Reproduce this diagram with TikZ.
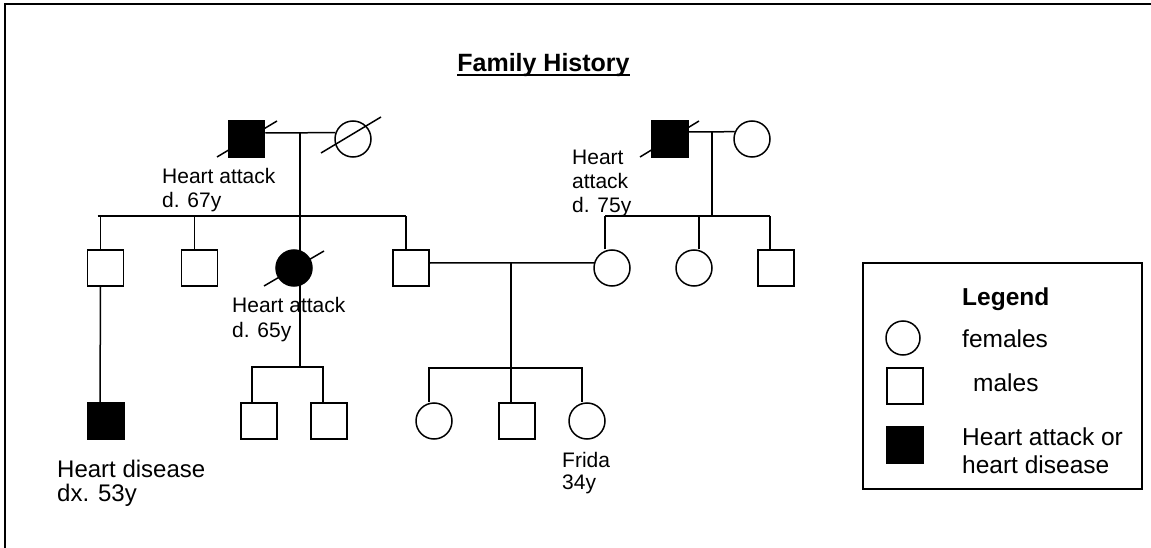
\documentclass[tikz,border=0pt]{standalone}
\usepackage{fontspec}
\setmainfont{Liberation Sans}
\newcommand\lbfont{\fontsize{21}{23.5}\selectfont}
\tikzset{
  x=1pt, y=-1pt,
  sym/.style={draw, line width=1.5pt, fill=white, inner sep=0pt},
  male/.style={sym, rectangle, minimum size=36pt},
  female/.style={sym, circle, minimum size=36pt},
  aff/.style={fill=black},
  conn/.style={line width=1.5pt},
  strike/.style={line width=1.5pt},
  lbl/.style={anchor=base west, inner sep=0pt, align=left},
}
\begin{document}
\begin{tikzpicture}
\useasboundingbox (0,0) rectangle (1151,548);
\draw[line width=2.2pt] (5,4) rectangle (1170,570);

% title
\node[anchor=base, inner sep=0pt, font=\fontsize{25}{28}\selectfont\bfseries] (title) at (543.5,72) {Family History};
\draw[line width=2.2pt] ([yshift=-3pt]title.base west) -- ([yshift=-3pt]title.base east);

% coordinates for family lines
\coordinate (m1) at (300,133);
\coordinate (sib1) at (300,216);
\coordinate (acj) at (300,367);
\coordinate (m2) at (511,263);
\coordinate (sib3) at (511,368);
\coordinate (m3) at (712,132);
\coordinate (sib2) at (712,216);

% lines drawn first (symbols drawn over)
\draw[conn] (m1) -- (acj);
\draw[conn] (m2) -- (sib3);
\draw[conn] (m3) -- (sib2);

% generation 1
\node[male, aff] (gf1) at (246.5,139) {};
\node[female] (gm1) at (353,139) {};
\node[male, aff] (gf2) at (670,139) {};
\node[female] (gm2) at (752,139) {};

% generation 2
\node[male] (u1) at (105.5,268) {};
\node[male] (u2) at (199.5,268) {};
\node[female, aff] (aunt) at (294,268) {};
\node[male] (dad) at (411,268) {};
\node[female] (mom) at (612,268) {};
\node[female] (a2) at (694,268) {};
\node[male] (u3) at (776,268) {};

% generation 3
\node[male, aff] (cousin) at (106,421) {};
\node[male] (ac1) at (259,421) {};
\node[male] (ac2) at (329,421) {};
\node[female] (s1) at (434,421) {};
\node[male] (s2) at (517,421) {};
\node[female] (frida) at (587,421) {};

% strike-through lines (deceased)
\draw[strike] (gf1.center) ++(-29.5,18) -- ++(60,-36);
\draw[strike] (gm1.center) ++(-32,14) -- ++(60,-36);
\draw[strike] (gf2.center) ++(-30,18) -- ++(59,-36);
\draw[strike] (aunt.center) ++(-30,18) -- ++(60,-35);

% marriages
\draw[conn] (gf1.east |- m1) -- (gm1.160);
\draw[conn] (gf2.east |- m3) -- (gm2.157);
\draw[conn] (dad.east |- m2) -- (mom.164);

% sibship gen 1 left
\draw[conn] ([xshift=-8pt]u1.north |- sib1) -- ([xshift=-5pt]dad.north |- sib1);
\draw[conn] ([xshift=-5pt]u1.north) -- ([xshift=-5pt]u1.north |- sib1);
\draw[conn] ([xshift=-5pt]u2.north) -- ([xshift=-5pt]u2.north |- sib1);
\draw[conn] ([xshift=-5pt]dad.north) -- ([xshift=-5pt]dad.north |- sib1);

% sibship gen 1 right
\draw[conn] ([xshift=-7pt]mom.north |- sib2) -- ([xshift=-6pt]u3.north |- sib2);
\draw[conn] ([xshift=-7pt]mom.north) -- ([xshift=-7pt]mom.north |- sib2);
\draw[conn] ([xshift=5pt]a2.north) -- ([xshift=5pt]a2.north |- sib2);
\draw[conn] ([xshift=-6pt]u3.north) -- ([xshift=-6pt]u3.north |- sib2);

% uncle to cousin
\draw[conn] ([xshift=-5pt]u1.south) -- ([xshift=-6pt]cousin.north);

% aunt's children
\draw[conn] ([xshift=-7pt]ac1.north) -- ([xshift=-7pt]ac1.north |- acj) -- ([xshift=-6pt]ac2.north |- acj) -- ([xshift=-6pt]ac2.north);

% parents' children
\draw[conn] ([xshift=-5pt]s1.north) -- ([xshift=-5pt]s1.north |- sib3) -- ([xshift=-5pt]frida.north |- sib3) -- ([xshift=-5pt]frida.north);
\draw[conn] ([xshift=-6pt]s2.north) -- ([xshift=-6pt]s2.north |- sib3);

% labels
\node[lbl] (l1) at (162,184) {\lbfont\begin{tabular}[t]{@{}l@{}}Heart attack\\d. 67y\end{tabular}};
\node[lbl] (l2) at (572,165) {\fontsize{21}{24}\selectfont\begin{tabular}[t]{@{}l@{}}Heart\\attack\\d. 75y\end{tabular}};
\node[lbl] (l3) at (232,312) {\fontsize{21}{25}\selectfont\begin{tabular}[t]{@{}l@{}}Heart attack\\d. 65y\end{tabular}};
\node[lbl] (l4) at (57,477) {\fontsize{24}{23.5}\selectfont\begin{tabular}[t]{@{}l@{}}Heart disease\\dx. 53y\end{tabular}};
\node[lbl] (l5) at (562,467) {\fontsize{21}{22}\selectfont\begin{tabular}[t]{@{}l@{}}Frida\\34y\end{tabular}};

% legend
\node[draw, line width=1.8pt, minimum width=279pt, minimum height=226pt, inner sep=0pt] (legend) at (1002.5,376) {};
\node[lbl, font=\fontsize{24.5}{28}\selectfont\bfseries] (lt) at (962,305) {Legend};
\node[female, minimum size=34pt] (lc) at (903,338) {};
\node[lbl, font=\fontsize{24.5}{28}\selectfont] (lf) at (962,347) {females};
\node[male] (ls) at (905,386) {};
\node[lbl, font=\fontsize{24.5}{28}\selectfont] (lm) at (973,391) {males};
\node[male, aff] (la) at (905,445) {};
\node[lbl] (lh) at (962,445) {\fontsize{24.5}{28}\selectfont\begin{tabular}[t]{@{}l@{}}Heart attack or\\heart disease\end{tabular}};
\end{tikzpicture}
\end{document}
